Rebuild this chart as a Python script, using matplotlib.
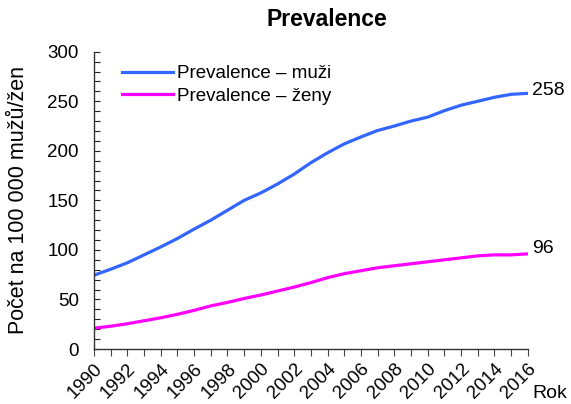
import matplotlib.pyplot as plt
import numpy as np

plt.rcParams['font.family'] = ['Liberation Sans', 'DejaVu Sans']

years = list(range(1990, 2017))
muzi = [74.5, 80.5, 87, 95, 103, 111.5, 121, 130, 140, 150, 157.5, 166.5, 176.5, 188,
        198, 207, 214, 220.5, 225, 230, 234, 240.5, 246, 250, 254, 257, 258]
zeny = [21, 23, 25.5, 28.5, 31.5, 35, 39, 43.5, 47, 51, 54.5, 58.5, 62.5, 67,
        72, 76, 79, 82, 84, 86, 88, 90, 92, 94, 95, 95, 96]
year_labels = [str(y) if y % 2 == 0 else '' for y in years]

blue = '#3366ff'
pink = '#ff00ff'

fig = plt.figure(figsize=(5.71, 4.04), dpi=100)
ax = fig.add_axes([0.1646, 0.1361, 0.7597, 0.7359])

ax.plot(years, muzi, color=blue, lw=2.3, label='Prevalence – muži')
ax.plot(years, zeny, color=pink, lw=2.3, label='Prevalence – ženy')

ax.set_xlim(1990, 2016)
ax.set_ylim(0, 300)
ax.set_yticks(np.arange(0, 301, 50))
ax.set_yticks(np.arange(0, 301, 10), minor=True)
ax.set_xticks(years)
ax.set_xticklabels(year_labels, rotation=45, ha='right', va='top',
                   rotation_mode='anchor', fontsize=13.5)
ax.tick_params(axis='y', which='both', direction='in', length=4, width=0.8,
               labelsize=13.5, pad=11, color='#222222')
ax.tick_params(axis='x', direction='out', length=5, width=0.8, pad=3, color='#444444')
for s in ['top', 'right']:
    ax.spines[s].set_visible(False)
for s in ['left', 'bottom']:
    ax.spines[s].set_color('#333333')
    ax.spines[s].set_linewidth(1.0)

ax.set_ylabel('Počet na 100 000 mužů/žen', fontsize=15.5)
ax.yaxis.set_label_coords(-0.15, 0.5)

# koncové hodnoty
ax.annotate(f'{muzi[-1]:.0f}', (years[-1], muzi[-1]), xytext=(3, 2),
            textcoords='offset points', va='center', ha='left', fontsize=14,
            annotation_clip=False)
ax.annotate(f'{zeny[-1]:.0f}', (years[-1], zeny[-1]), xytext=(3, 4),
            textcoords='offset points', va='center', ha='left', fontsize=14,
            annotation_clip=False)

ax.legend(loc='upper left', bbox_to_anchor=(0.0645, 0.955), frameon=False, fontsize=13.5,
          handlelength=2.7, handletextpad=0.25, labelspacing=0.3,
          borderaxespad=0, borderpad=0)

fig.text(327 / 571, 1 - 20 / 404, 'Prevalence', ha='center', va='center',
         fontsize=16.5, fontweight='bold')
fig.text(532 / 571, 1 - 394 / 404, 'Rok', ha='left', va='center', fontsize=14)

fig.savefig('out.png', dpi=100)
